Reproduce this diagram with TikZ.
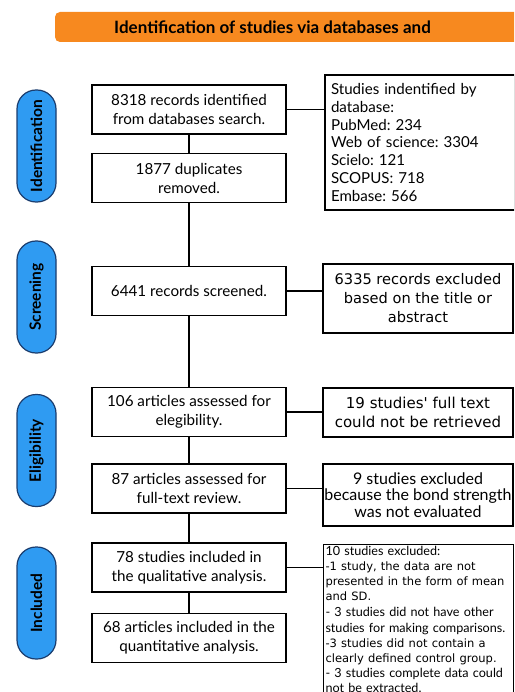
\documentclass[tikz,border=0pt]{standalone}
\usepackage{fontspec}
\setmainfont{Lato}
\newfontfamily\dvsans{DejaVu Sans}
\frenchspacing
\definecolor{bannerorange}{HTML}{F7891F}
\definecolor{phaseblue}{HTML}{2F9BF2}
\definecolor{phaseedge}{HTML}{1B3D6E}
\tikzset{
  leftbox/.style={draw, line width=1.8pt, minimum width=194pt, minimum height=49pt,
    align=center, inner sep=2pt, font=\fontsize{15.2}{19}\selectfont},
  rightbox/.style={draw, line width=1.8pt, minimum width=190pt, align=center,
    inner sep=1pt, font=\dvsans\fontsize{14.6}{19}\selectfont},
  phase/.style={draw=phaseedge, line width=1.2pt, fill=phaseblue, rounded corners=19pt,
    minimum width=112pt, minimum height=39pt, rotate=90,
    font=\bfseries\fontsize{15.5}{17}\selectfont},
  link/.style={line width=1.8pt}
}
\begin{document}
\begin{tikzpicture}[x=1pt, y=-1pt]
    \useasboundingbox (0,0) rectangle (514,692);
    \clip (0,0) rectangle (514,692);

    \fill [bannerorange, rounded corners=5pt] (55,12) rectangle (580,42);
    \node [font=\bfseries\fontsize{17}{19}\selectfont] (title) at (272.5,27) {Identification of studies via databases and};

    \node [phase] (pid) at (36.5,146) {Identification};
    \node [phase] (pscr) at (36.5,297) {Screening};
    \node [phase] (pel) at (36.5,450.5) {Eligibility};
    \node [phase] (pinc) at (36.5,603) {Included};

    \node [leftbox] (ident) at (189,109.5) {8318 records identified\\from databases search.};
    \node [leftbox] (dupl) at (189,178) {1877 duplicates\\removed.};
    \node [leftbox] (screen) at (189,291) {6441 records screened.};
    \node [leftbox] (elig) at (189,412) {106 articles assessed for\\elegibility.};
    \node [leftbox] (full) at (189,488.5) {87 articles assessed for\\full-text review.};
    \node [leftbox] (qual) at (189,567.5) {78 studies included in\\the qualitative analysis.};
    \node [leftbox] (quant) at (189,638) {68 articles included in the\\quantitative analysis.};

    \node [rightbox, minimum height=135pt, align=left, text width=178pt,
           font=\fontsize{15.1}{17.8}\selectfont] (dbase) at (420,142.5)
          {Studies indentified by\\database:\\PubMed: 234\\Web of science: 3304\\Scielo: 121\\SCOPUS: 718\\Embase: 566};
    \node [rightbox, minimum height=69pt] (exttl) at (418,298.5) {6335 records excluded\\based on the title or\\abstract};
    \node [rightbox, minimum height=49pt, font=\dvsans\fontsize{15}{19}\selectfont] (exret) at (418,412.5) {19 studies' full text\\could not be retrieved};
    \node [rightbox, minimum height=62pt, font=\fontsize{16}{16.5}\selectfont] (exbond) at (418,495) {9 studies excluded\\because the bond strength\\was not evaluated};
    \node [draw, line width=1pt, anchor=north west, minimum width=190pt,
           text width=186pt, align=left, inner sep=1.5pt, font=\fontsize{12.6}{15.2}\selectfont] (exten) at (323,544)
          {10 studies excluded:\\
           {\dvsans\fontsize{11.5}{15.2}\selectfont -1 study, the data are not\\presented in the form of mean\\and SD.}\\[0.8pt]
           - 3 studies did not have other\\studies for making comparisons.\\
           {\dvsans\fontsize{11.5}{15.2}\selectfont -3 studies did not contain a\\clearly defined control group.}\\
           - 3 studies complete data could\\not be extracted.};

    \draw [link] (ident) -- (dupl);
    \draw [link] (dupl) -- (screen);
    \draw [link] (screen) -- (elig);
    \draw [link] (elig) -- (full);
    \draw [link] (full) -- (qual);
    \draw [link] (qual) -- (quant);

    \draw [link] (ident.east) -- (ident.east -| dbase.west);
    \draw [link] (screen.east) -- (screen.east -| exttl.west);
    \draw [link] (elig.east) -- (elig.east -| exret.west);
    \draw [link] (full.east) -- (full.east -| exbond.west);
    \draw [link] (qual.east) -- (qual.east -| exten.west);
\end{tikzpicture}
\end{document}
